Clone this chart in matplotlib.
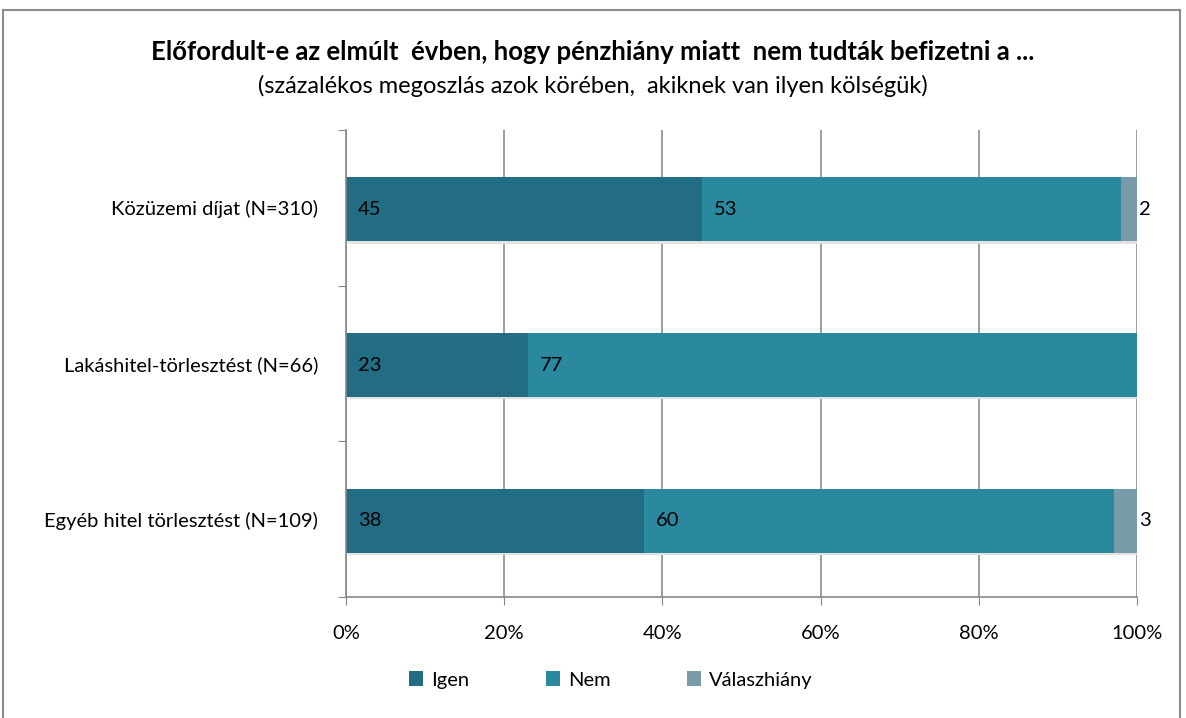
import numpy as np
import matplotlib.pyplot as plt
from matplotlib.patches import Rectangle

plt.rcParams['font.family'] = ['Lato', 'DejaVu Sans']

categories = ["Közüzemi díjat (N=310)", "Lakáshitel-törlesztést (N=66)", "Egyéb hitel törlesztést (N=109)"]
series = ["Igen", "Nem", "Válaszhiány"]
igen = [45, 23, 38]
nem = [53, 77, 60]
valaszhiany = [2, 0, 3]
colors = ["#226d84", "#2a889f", "#7a9ba9"]
xticks = ["0%", "20%", "40%", "60%", "80%", "100%"]

data = np.array([igen, nem, valaszhiany], dtype=float)
shares = data / data.sum(axis=0) * 100

fig = plt.figure(figsize=(11.86, 7.18), dpi=100)
ax = fig.add_axes([346/1186, 1 - 597/718, (1137-346)/1186, (597-130)/718])

y = np.arange(len(categories))[::-1]
left = np.zeros(len(categories))
for i in range(len(series)):
    # soft shadow under the bars
    ax.barh(y - 0.025, shares[i], left=left + 0.3, height=0.41, color="#e2e2e2", zorder=1)
    ax.barh(y - 0.01, shares[i], left=left, height=0.41, color=colors[i], label=series[i], zorder=2)
    for j in range(len(categories)):
        if data[i, j] > 0:
            if shares[i, j] < 5:
                xpos = left[j] + shares[i, j] + 0.3
            else:
                xpos = left[j] + 1.5
            ax.text(xpos, y[j] - 0.01, "%d" % data[i, j], va="center", ha="left",
                    fontsize=14.5, color="black", zorder=3)
    left += shares[i]

ax.set_xlim(0, 100)
ax.set_ylim(-0.5, 2.5)
ax.set_xticks(np.arange(0, 101, 20))
ax.set_xticklabels(xticks, fontsize=14.5)
ax.set_yticks([-0.5, 0.5, 1.5, 2.5], minor=False)
ax.set_yticklabels([])
ax.set_yticks(y, minor=True)
ax.set_yticklabels(categories, minor=True, fontsize=14.5)
ax.tick_params(axis="y", which="minor", length=0, pad=20)
ax.tick_params(axis="y", which="major", length=6, color="#888888", direction="out")
ax.tick_params(axis="x", length=6, color="#888888", pad=14)
ax.grid(axis="x", color="#8c8c8c", linewidth=1.2, zorder=0)
ax.set_axisbelow(True)
for s in ["top", "right"]:
    ax.spines[s].set_visible(False)
ax.spines["left"].set_color("#888888")
ax.spines["bottom"].set_color("#888888")
ax.spines["left"].set_linewidth(1.2)
ax.spines["bottom"].set_linewidth(1.2)

fig.text(0.5, 1 - 52/718, "Előfordult-e az elmúlt  évben, hogy pénzhiány miatt  nem tudták befizetni a ...",
         ha="center", va="center", fontsize=18.5, fontweight="bold")
fig.text(0.5, 1 - 86/718, "(százalékos megoszlás azok körében,  akiknek van ilyen kölségük)",
         ha="center", va="center", fontsize=17)

h, l = ax.get_legend_handles_labels()
fig.legend(h, l, loc="center", bbox_to_anchor=(0.515, 1 - 680/718), ncol=3, frameon=False,
           fontsize=14.5, handlelength=0.7, handleheight=0.7, columnspacing=3.8, handletextpad=0.4)

fig.add_artist(Rectangle((3/1186, -0.01), 1 - 9/1186, 1 - 10/718 + 0.01, transform=fig.transFigure,
                         fill=False, edgecolor="#8c8c8c", linewidth=1.5))

fig.savefig("out.png", dpi=100)
